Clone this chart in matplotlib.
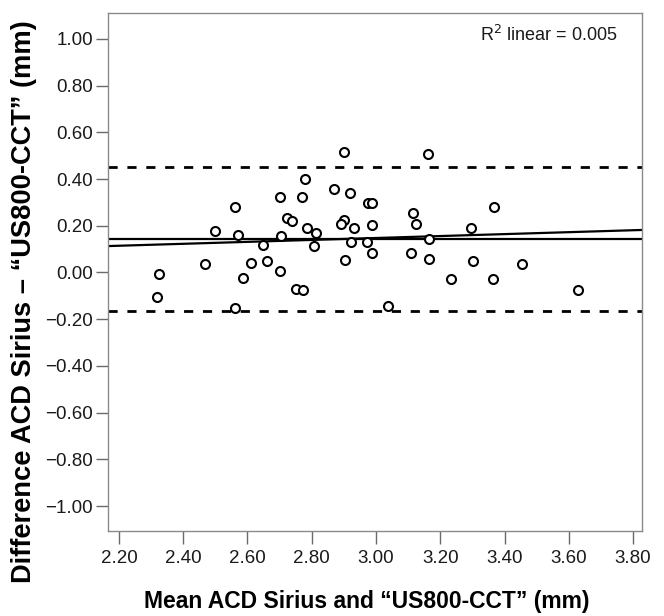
import matplotlib
matplotlib.use("Agg")
import matplotlib.pyplot as plt
import numpy as np

plt.rcParams['font.family'] = ['Liberation Sans', 'DejaVu Sans']

# mean of the two devices (mm)
mean_acd = [2.318, 2.325, 2.468, 2.499, 2.560, 2.571, 2.561, 2.585, 2.610, 2.647,
            2.662, 2.700, 2.705, 2.701, 2.723, 2.740, 2.751, 2.773, 2.771, 2.780,
            2.784, 2.813, 2.807, 2.869, 2.899, 2.920, 2.901, 2.892, 2.933, 2.922,
            2.903, 2.976, 2.988, 2.989, 2.973, 2.989, 3.161, 3.116, 3.123, 3.110,
            3.165, 3.166, 3.037, 3.235, 3.295, 3.302, 3.366, 3.364, 3.454, 3.630]
# difference Sirius - US800 (mm)
diff_acd = [-0.104, -0.008, 0.037, 0.179, 0.282, 0.160, -0.153, -0.024, 0.042, 0.118,
            0.047, 0.322, 0.154, 0.006, 0.233, 0.222, -0.071, -0.074, 0.325, 0.399,
            0.191, 0.168, 0.115, 0.359, 0.517, 0.342, 0.226, 0.208, 0.190, 0.130,
            0.052, 0.298, 0.298, 0.202, 0.130, 0.082, 0.508, 0.256, 0.208, 0.082,
            0.145, 0.057, -0.142, -0.027, 0.192, 0.049, 0.279, -0.027, 0.036, -0.074]

mean_diff = 0.143
limits = [0.452, -0.166]
reg_slope = 0.0415
reg_intercept = 0.113 - reg_slope * 2.166
r2_text = "R$^2$ linear = 0.005"

xticks = [2.20, 2.40, 2.60, 2.80, 3.00, 3.20, 3.40, 3.60, 3.80]
yticks = [1.00, 0.80, 0.60, 0.40, 0.20, 0.00, -0.20, -0.40, -0.60, -0.80, -1.00]

fig = plt.figure(figsize=(6.64, 6.16), dpi=100)
ax = fig.add_axes([0.1627, 0.138, 0.8042, 0.8409])

xlim = (2.166, 3.828)
ylim = (-1.107, 1.111)

# limits of agreement, mean difference and linear fit
ax.axhline(limits[0], color='black', lw=2.0, ls=(0, (3.3, 3.5)), zorder=2)
ax.axhline(limits[1], color='black', lw=2.0, ls=(0, (3.3, 3.5)), zorder=2)
ax.axhline(mean_diff, color='black', lw=1.6, zorder=2)
xs = np.array(xlim)
ax.plot(xs, reg_intercept + reg_slope * xs, color='black', lw=1.6, zorder=2)

ax.scatter(mean_acd, diff_acd, s=42, facecolors='white', edgecolors='black',
           linewidths=1.5, zorder=3)

ax.set_xlim(*xlim)
ax.set_ylim(*ylim)
ax.set_xticks(xticks)
ax.set_xticklabels([f"{v:.2f}" for v in xticks])
ax.set_yticks(yticks)
ax.set_yticklabels([f"{v:.2f}".replace('-', '\u2212') for v in yticks])

for s in ax.spines.values():
    s.set_color('#8a8a8a')
    s.set_linewidth(1.0)
ax.tick_params(axis='both', direction='out', length=9, width=1.0, color='#6a6a6a',
               labelsize=13.5, labelcolor='#1a1a1a', pad=2)
ax.tick_params(axis='x', pad=5)

ax.set_xlabel("Mean ACD Sirius and \u201cUS800-CCT\u201d (mm)", fontsize=16.5,
              fontweight='bold')
ax.set_ylabel("Difference ACD Sirius \u2013 \u201cUS800-CCT\u201d (mm)", fontsize=19.6,
              fontweight='bold')
ax.yaxis.set_label_coords(-0.133, 0.442)
ax.xaxis.set_label_coords(0.485, -0.113)
ax.xaxis.label.set_va('top')

ax.text(0.955, 0.957, r2_text, transform=ax.transAxes, ha='right', va='center',
        fontsize=13, color='#1a1a1a')

fig.savefig("out.png", dpi=100)
